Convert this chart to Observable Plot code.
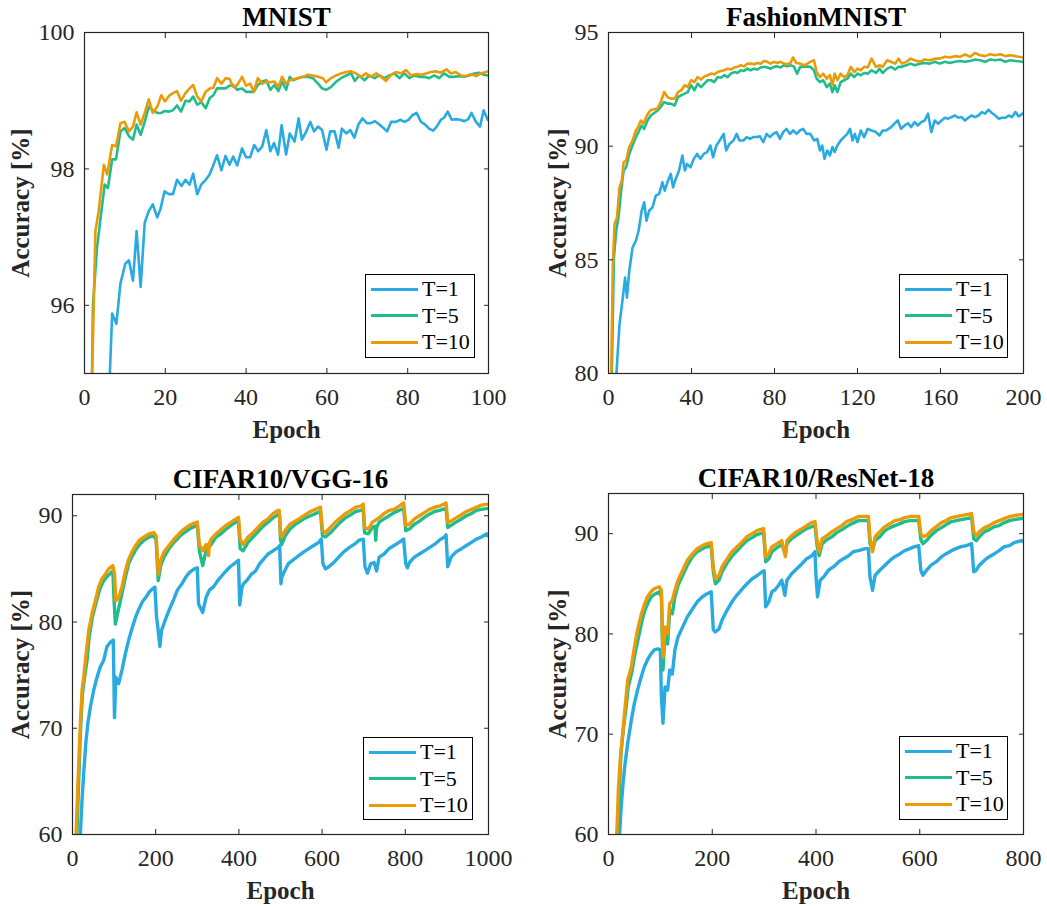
<!DOCTYPE html>
<html><head><meta charset="utf-8">
<script src="https://cdn.jsdelivr.net/npm/d3@7"></script>
<script src="https://cdn.jsdelivr.net/npm/@observablehq/plot@0.6"></script>
<style>
body{margin:0;background:#fff;}
#root{position:relative;width:1047px;height:906px;background:#fff;font-family:"Liberation Serif","Times New Roman",serif;overflow:hidden;}
.panel{position:absolute;}
.panel svg{display:block;max-width:none;}
.legend{position:absolute;border:1px solid #000;background:#fff;box-sizing:border-box;}
.row{position:absolute;left:0;height:26px;display:flex;align-items:center;white-space:nowrap;}
.sw{display:inline-block;width:47px;height:3px;margin-left:5px;margin-right:4px;}
.lt{font-family:"Liberation Serif","Times New Roman",serif;font-size:22px;color:#000;line-height:22px;}
</style></head><body><div id="root"></div>
<script>
const FONT = '"Liberation Serif","Times New Roman",serif';
const seriesNames = ["T=1", "T=5", "T=10"];
const seriesColors = ["#29abe2", "#20bd8c", "#e99b0a"];
const titles = ["MNIST", "FashionMNIST", "CIFAR10/VGG-16", "CIFAR10/ResNet-18"];
const xLabel = "Epoch";
const yLabel = "Accuracy [%]";
const xTicksMnist = [0, 20, 40, 60, 80, 100];
const yTicksMnist = [96, 98, 100];
const xTicksFashion = [0, 40, 80, 120, 160, 200];
const yTicksFashion = [80, 85, 90, 95];
const xTicksVgg = [0, 200, 400, 600, 800, 1000];
const yTicksVgg = [60, 70, 80, 90];
const xTicksResnet = [0, 200, 400, 600, 800];
const yTicksResnet = [60, 70, 80, 90];

// MNIST [epoch, accuracy]
const mnistT1 = [[5.5,93.8],[6.85,95.88],[7.9,95.73],[8.9,96.32],[10.1,96.61],[11,96.66],[12,96.36],[12.9,97.09],[13.9,96.27],[14.9,97.21],[15.9,97.38],[16.9,97.48],[18,97.29],[18.8,97.41],[19.8,97.67],[20.9,97.63],[21.9,97.63],[22.9,97.84],[24,97.75],[25,97.84],[26,97.77],[26.9,97.93],[27.9,97.63],[28.9,97.77],[30,97.84],[30.9,97.91],[31.8,98.04],[32.8,98.2],[33.9,97.98],[34.9,98.19],[35.9,98.06],[36.8,98.18],[37.8,98.05],[39,98.3],[40,98.17],[41,98.17],[42,98.35],[43,98.26],[44,98.33],[45,98.57],[46,98.26],[46.9,98.38],[47.9,98.21],[48.8,98.64],[49.9,98.21],[50.8,98.52],[52,98.4],[53,98.74],[53.8,98.43],[54.9,98.55],[55.9,98.69],[56.8,98.55],[57.8,98.62],[58.8,98.57],[59.9,98.28],[60.8,98.55],[61.9,98.55],[62.9,98.31],[63.7,98.59],[64.8,98.52],[65.8,98.57],[66.8,98.46],[67.8,98.65],[68.8,98.74],[69.9,98.67],[70.9,98.67],[71.9,98.7],[73,98.65],[74,98.6],[74.9,98.55],[75.9,98.69],[77.1,98.69],[78.1,98.72],[79.2,98.69],[80.2,98.72],[81.2,98.79],[82.2,98.82],[83.3,98.69],[84.3,98.65],[85.3,98.59],[86.3,98.56],[87.2,98.62],[88.2,98.72],[89,98.75],[89.9,98.84],[90.9,98.72],[91.9,98.73],[93,98.72],[94,98.7],[95,98.73],[95.8,98.82],[96.9,98.69],[97.9,98.62],[98.8,98.86],[99.8,98.72]];
const mnistT5 = [[1.5,93.5],[2.1,96.0],[3.1,96.85],[4,97.29],[5,97.77],[5.8,97.72],[6.85,98.14],[7.8,98.14],[8.9,98.55],[9.9,98.6],[11,98.48],[12,98.43],[12.9,98.65],[13.9,98.5],[14.9,98.69],[15.9,98.91],[16.9,98.86],[18,98.82],[19,98.82],[19.9,98.85],[20.9,98.84],[21.9,98.86],[22.9,98.93],[23.9,98.84],[25,99.0],[26,98.99],[26.9,99.06],[27.9,98.94],[28.9,98.98],[30,98.89],[31,99.04],[31.9,99.08],[32.8,99.18],[33.9,99.18],[34.9,99.18],[35.9,99.22],[36.8,99.23],[37.8,99.16],[39,99.18],[40,99.13],[41,99.13],[41.9,99.13],[42.9,99.23],[44,99.28],[45,99.3],[46,99.16],[47,99.23],[48,99.14],[48.9,99.28],[49.9,99.16],[50.8,99.35],[51.6,99.3],[52.8,99.33],[54.1,99.35],[55.3,99.35],[56.5,99.33],[57.8,99.25],[58.8,99.18],[59.8,99.16],[61,99.2],[62.3,99.28],[63.5,99.33],[64.8,99.37],[66,99.4],[66.9,99.29],[68,99.37],[69.3,99.3],[70.5,99.37],[71.8,99.33],[73,99.37],[74.2,99.33],[75.5,99.37],[76.7,99.4],[78,99.33],[79.2,99.4],[80.4,99.33],[81.6,99.37],[82.9,99.35],[84.1,99.35],[85.3,99.33],[86.6,99.37],[87.8,99.33],[89,99.4],[90.3,99.35],[91.5,99.35],[92.8,99.36],[94,99.35],[95.2,99.37],[96.5,99.4],[97.7,99.41],[98.9,99.38],[99.8,99.37]];
const mnistT10 = [[1,91.0],[1.9,95.0],[2.7,97.09],[3.5,97.38],[4.8,98.06],[5.6,97.92],[6.85,98.35],[7.8,98.33],[8.9,98.67],[9.9,98.69],[11,98.55],[12,98.62],[12.9,98.83],[13.9,98.65],[14.9,98.82],[15.9,99.02],[16.9,98.82],[18,98.91],[19,99.08],[19.9,98.99],[20.9,99.07],[21.9,99.11],[22.9,99.14],[23.9,99.0],[25,99.11],[26,99.18],[26.9,99.23],[27.9,99.06],[28.9,98.99],[30,99.13],[31,99.18],[31.9,99.19],[32.8,99.33],[33.9,99.25],[34.9,99.33],[35.9,99.32],[36.8,99.2],[37.8,99.23],[39,99.35],[40,99.22],[41,99.25],[41.9,99.13],[42.9,99.33],[44,99.25],[45,99.28],[46,99.27],[47,99.28],[48,99.2],[48.9,99.35],[49.9,99.25],[50.8,99.3],[52.8,99.33],[54.1,99.35],[55.3,99.38],[56.5,99.37],[57.8,99.35],[59,99.33],[59.8,99.27],[61,99.33],[62.3,99.37],[63.5,99.4],[64.8,99.42],[66,99.43],[67.2,99.4],[68.5,99.35],[69.7,99.4],[70.9,99.35],[72.2,99.4],[73.4,99.35],[74.6,99.29],[75.9,99.38],[77.1,99.42],[78.4,99.4],[79.6,99.45],[80.8,99.37],[82.1,99.39],[83.3,99.38],[84.5,99.4],[85.8,99.42],[87,99.43],[88.2,99.41],[89.6,99.46],[90.7,99.4],[91.9,99.42],[93.2,99.37],[94.4,99.36],[95.6,99.39],[96.9,99.36],[98.1,99.4],[99.8,99.43]];

// FashionMNIST
const fashionT1 = [[3,78.8],[5.3,82.16],[6.9,83.34],[8,84.22],[8.9,83.34],[10,84.5],[11.6,85.54],[13.2,85.84],[14.5,86.28],[16,87.16],[17.2,87.53],[18.3,86.72],[19.6,87.16],[21.2,87.31],[22.8,87.82],[24.4,87.9],[26,88.41],[27.1,88.04],[28.4,88.41],[30,88.78],[31.1,88.19],[32.4,88.56],[34,88.93],[35.6,89.59],[36.8,88.93],[37.9,89.22],[39.5,89.07],[41.1,89.44],[42.7,89.66],[44.3,89.44],[45.9,89.66],[47.5,89.74],[49.1,90.03],[50.4,89.51],[52,90.03],[53.6,90.25],[55.5,90.54],[56.7,89.81],[58.3,90.1],[60.2,90.25],[61.8,90.54],[63.1,90.25],[65,90.25],[66.6,90.4],[68.2,90.32],[69.8,90.4],[71.4,90.4],[73,90.43],[74.6,90.18],[76.2,90.54],[77.8,90.4],[79.4,90.54],[81,90.62],[82.6,90.32],[84.2,90.62],[85.8,90.76],[87.4,90.54],[89,90.69],[90.6,90.54],[92.2,90.69],[93.8,90.76],[95.4,90.54],[97.3,90.54],[99,90.25],[100.6,90.32],[101.9,89.81],[103,90.03],[104.1,89.44],[105.4,89.81],[106.7,89.59],[107.9,89.96],[109,89.74],[110.3,90.03],[111.9,90.25],[113.5,90.4],[115.1,90.54],[116.4,90.76],[117.6,90.25],[118.7,90.54],[120,90.18],[121.6,90.69],[123.2,90.4],[124.9,90.76],[126.8,90.69],[128.9,90.62],[130.6,90.47],[132.1,90.69],[133.8,90.69],[136.2,90.84],[137.8,90.99],[139.4,91.13],[141,90.76],[142.7,90.91],[144.3,91.01],[145.9,90.84],[147.5,91.06],[149.1,90.91],[150.7,91.06],[152.4,91.13],[154,91.43],[155.6,90.62],[157.2,91.13],[158.8,90.99],[160.5,91.13],[162.1,91.25],[163.7,91.21],[165.3,91.28],[166.9,91.35],[168.6,91.25],[170.2,91.28],[171.8,91.13],[173.4,91.25],[175,91.35],[176.6,91.28],[178.3,91.35],[179.9,91.5],[181.5,91.43],[183.1,91.6],[184.8,91.46],[186.4,91.35],[188,91.21],[189.6,91.25],[191.3,91.25],[192.9,91.35],[194.5,91.28],[196.1,91.5],[197.7,91.31],[199.6,91.43]];
const fashionT5 = [[1,77],[1.6,80],[2.6,85.1],[3.7,86.28],[4.8,86.87],[6.1,88.04],[7.3,88.93],[8.5,89.07],[10,89.66],[11.6,90.03],[13.2,90.4],[14.8,90.69],[15.9,90.91],[17.2,90.76],[18.8,91.13],[20.4,91.35],[22,91.46],[23.6,91.57],[25.2,91.72],[26.8,91.94],[28.4,91.87],[30,91.87],[31.9,91.79],[33.5,92.16],[35.1,92.24],[36.7,92.31],[38.2,92.38],[39.8,92.68],[41.4,92.46],[43,92.75],[44.6,92.6],[46.2,92.75],[47.8,92.9],[49.4,92.9],[51,92.82],[52.6,93.04],[54.2,93.01],[55.8,93.12],[57.4,93.04],[59,93.19],[60.6,93.26],[62.2,93.22],[63.7,93.34],[65.3,93.31],[66.9,93.41],[68.5,93.34],[70.1,93.41],[71.7,93.37],[73.3,93.46],[74.9,93.49],[76.5,93.46],[78.1,93.41],[79.7,93.49],[81.3,93.51],[82.9,93.46],[84.5,93.56],[86.1,93.51],[87.7,93.56],[89.3,93.51],[90.9,93.19],[92.4,93.49],[94.5,93.51],[97.3,93.49],[99,93.34],[100.3,92.97],[101.9,92.82],[103.5,92.9],[105.2,92.6],[106.7,92.75],[107.9,92.38],[109,92.68],[110.3,92.38],[111.9,92.82],[113.5,92.9],[115.1,92.97],[116.8,93.19],[118.4,93.04],[120,93.19],[121.6,93.12],[123.2,93.22],[124.9,93.19],[126.8,93.34],[128.9,93.22],[130.6,93.41],[132.1,93.22],[134.3,93.41],[136.2,93.49],[138.1,93.37],[139.8,93.49],[141.4,93.49],[143.5,93.56],[145.6,93.63],[147.5,93.56],[150,93.63],[152.4,93.66],[154.9,93.63],[157.2,93.71],[159.6,93.63],[162.1,93.71],[164.5,93.66],[166.9,93.71],[169.4,93.75],[171.8,93.71],[174.3,93.75],[176.6,93.81],[179.1,93.78],[181.5,93.71],[183.9,93.81],[186.4,93.78],[188.8,93.81],[191.3,93.71],[193.7,93.78],[196.1,93.75],[199.6,93.71]];
const fashionT10 = [[0.8,77],[1.3,80],[2.1,84.8],[2.9,86.57],[4.1,86.87],[5.3,88.19],[6.4,88.49],[7.3,89.29],[8.5,89.37],[10,89.96],[11.6,90.25],[13.2,90.69],[14.3,90.84],[15.6,91.13],[16.9,90.99],[18.5,91.35],[20.1,91.57],[21.7,91.62],[23.6,91.65],[25.2,91.94],[26.8,92.38],[28.4,92.16],[30,92.09],[31.9,92.09],[33.5,92.38],[35.1,92.46],[36.7,92.68],[38.2,92.6],[39.8,92.9],[41.4,92.82],[43,93.04],[44.6,92.93],[46.2,93.07],[47.8,93.12],[49.4,93.19],[51,93.16],[52.6,93.26],[54.2,93.31],[55.8,93.34],[57.4,93.41],[59,93.37],[60.6,93.46],[62.2,93.49],[63.7,93.56],[65.3,93.51],[66.9,93.63],[68.5,93.63],[70.1,93.6],[71.7,93.66],[73.3,93.63],[74.9,93.75],[76.5,93.71],[78.1,93.63],[79.7,93.71],[81.3,93.66],[82.9,93.71],[84.5,93.63],[86.1,93.6],[87.7,93.66],[88.9,93.9],[90.5,93.66],[92.4,93.63],[94.5,93.56],[97.3,93.71],[99,93.78],[100.3,93.26],[101.9,93.04],[103.5,93.19],[105.2,92.97],[106.7,93.12],[107.9,92.68],[109,93.19],[110.3,92.9],[111.9,93.19],[113.5,93.04],[115.1,93.12],[116.8,93.49],[118.4,93.26],[120,93.41],[121.6,93.34],[123.2,93.49],[124.9,93.46],[126.8,93.85],[128.9,93.49],[130.6,93.56],[132.1,93.49],[134.3,93.78],[136.2,93.71],[138.1,93.63],[139.8,93.85],[141.4,93.63],[143.5,93.71],[145.6,93.85],[147.5,93.78],[150,93.71],[152.4,93.81],[154.9,93.78],[157.2,93.85],[159.6,93.85],[162.1,93.93],[164.5,93.9],[166.9,93.96],[169.4,93.93],[171.8,94.04],[174.3,93.93],[176.6,94.1],[179.1,94.0],[181.5,93.96],[183.9,94.04],[186.4,94.0],[188.8,94.04],[191.3,93.96],[193.7,94.0],[196.1,93.96],[199.6,93.9]];

// CIFAR10 / VGG-16
const vggT1 = [[15,57],[23,63.3],[27,65.8],[32,68.6],[37,70.5],[43,72.0],[51,73.6],[59,74.8],[67,75.8],[75,76.4],[83,77.7],[91,78.1],[98,78.3],[101,71.0],[104,74.8],[111,74.2],[119,75.5],[127,77.0],[135,78.3],[144,79.5],[152,80.5],[160,81.25],[168,81.9],[176,82.3],[184,82.8],[192,83.1],[198,83.3],[202,80.5],[206,79.2],[210,77.7],[214,79.2],[223,80.2],[232,81.1],[242,82.0],[252,83.0],[263,83.6],[272,84.2],[282,84.7],[293,85.0],[300,85.1],[303,81.7],[313,80.9],[321,82.3],[329,83.0],[339,83.3],[349,83.9],[360,84.4],[369,84.8],[379,85.2],[389,85.5],[399,85.8],[402,81.6],[407,83.2],[411,83.6],[419,83.9],[430,84.5],[440,84.8],[450,85.5],[459,85.9],[470,86.4],[482,86.7],[494,87.0],[498,87.2],[501,83.6],[503,84.2],[510,84.8],[519,85.5],[532,85.9],[544,86.25],[556,86.6],[568,86.9],[580,87.2],[592,87.5],[598,87.8],[602,85.5],[608,85.0],[616,85.2],[628,85.6],[640,86.1],[652,86.6],[665,87.0],[677,87.3],[689,87.7],[699,87.8],[703,85.2],[709,84.6],[717,85.5],[725,85.6],[731,84.8],[737,86.1],[749,86.4],[761,86.9],[773,87.2],[785,87.5],[796,87.8],[801,85.5],[805,85.1],[810,85.6],[822,86.1],[834,86.4],[846,86.7],[858,87.0],[870,87.3],[882,87.7],[894,88.0],[898,88.2],[902,85.2],[910,86.1],[922,86.6],[935,86.9],[947,87.2],[959,87.5],[971,87.8],[983,88.0],[995,88.3],[1000,88.1]];
const vggT5 = [[7,56],[15,65.2],[20,70.5],[24,73.3],[29,74.8],[35,76.4],[40,78.6],[48,80.5],[56,81.7],[65,83.0],[73,83.75],[81,84.2],[89,84.5],[97,84.8],[100,82.0],[103,79.8],[110,81.1],[119,82.7],[127,84.2],[135,85.5],[144,86.25],[152,86.8],[161,87.3],[172,87.7],[184,88.0],[196,88.1],[201,87.7],[206,83.9],[212,85.3],[220,86.1],[232,86.9],[244,87.5],[256,88.0],[268,88.4],[281,88.75],[293,89.0],[300,89.1],[305,86.7],[313,85.3],[321,86.7],[333,87.3],[345,88.0],[357,88.3],[369,88.75],[381,89.1],[393,89.4],[399,89.5],[403,86.9],[410,86.7],[422,87.5],[434,88.0],[446,88.5],[458,89.0],[470,89.4],[482,89.8],[494,90.1],[498,89.85],[500,87.7],[503,87.3],[511,88.1],[523,88.75],[536,89.2],[548,89.5],[560,89.8],[572,90.0],[584,90.2],[596,90.4],[601,88.1],[608,88.0],[620,88.4],[632,88.9],[644,89.4],[656,89.8],[669,90.1],[681,90.4],[693,90.5],[699,90.6],[702,88.4],[711,88.3],[721,88.9],[727,89.0],[729,87.7],[731,88.9],[737,89.4],[749,89.7],[761,90.0],[773,90.3],[785,90.5],[796,90.7],[801,88.6],[810,88.75],[822,89.2],[834,89.5],[846,89.85],[858,90.15],[870,90.4],[882,90.5],[898,90.7],[902,88.9],[910,89.1],[922,89.4],[935,89.7],[947,90.0],[959,90.2],[971,90.5],[983,90.6],[1000,90.7]];
const vggT10 = [[5,56],[13,64.8],[19,70.5],[23,73.6],[27,74.8],[32,76.7],[39,79.2],[47,80.8],[55,82.0],[63,83.3],[71,84.1],[79,84.5],[87,85.0],[97,85.3],[101,84.5],[104,82.0],[111,82.3],[119,83.3],[127,84.8],[135,85.9],[144,86.7],[152,87.2],[161,87.7],[172,88.0],[184,88.3],[196,88.4],[201,88.1],[206,84.5],[212,85.8],[220,86.6],[232,87.2],[244,87.8],[256,88.3],[268,88.75],[281,89.1],[293,89.3],[300,89.4],[305,87.3],[313,86.7],[321,87.3],[325,87.2],[327,86.25],[329,87.4],[333,87.8],[345,88.3],[357,88.7],[369,89.1],[381,89.4],[393,89.7],[399,89.85],[403,87.8],[410,87.3],[422,88.0],[434,88.4],[446,88.9],[458,89.4],[470,89.7],[482,90.2],[494,90.5],[497,90.5],[500,88.3],[503,88.0],[511,88.6],[523,89.2],[536,89.5],[548,89.8],[560,90.1],[572,90.4],[584,90.6],[596,90.8],[601,88.6],[608,88.4],[620,88.9],[632,89.4],[644,89.8],[656,90.2],[669,90.5],[681,90.8],[693,90.9],[699,91.1],[702,88.9],[711,88.75],[721,89.4],[737,89.8],[749,90.2],[761,90.5],[773,90.6],[785,90.9],[796,91.2],[801,89.1],[810,89.2],[822,89.7],[834,90.0],[846,90.3],[858,90.6],[870,90.8],[882,90.9],[898,91.2],[902,89.4],[910,89.5],[922,89.8],[935,90.1],[947,90.4],[959,90.6],[971,90.8],[983,91.0],[1000,91.1]];

// CIFAR10 / ResNet-18
const resnetT1 = [[18,57],[24,62.4],[28,65.1],[32,67.1],[37,69.1],[44,71.4],[50,73.1],[56,74.4],[63,75.7],[69,76.7],[75,77.4],[82,78.0],[88,78.4],[95,78.5],[100,78.4],[102,73.7],[105,71.1],[109,74.7],[114,74.4],[118,76.4],[123,76.0],[128,78.4],[134,79.7],[143,80.7],[152,81.7],[162,82.5],[171,83.2],[181,83.7],[190,84.0],[198,84.2],[202,80.4],[206,80.2],[213,80.5],[219,81.4],[229,82.4],[238,83.2],[248,83.9],[258,84.5],[267,85.0],[277,85.5],[286,85.8],[296,86.2],[300,86.3],[303,82.7],[309,83.2],[315,84.2],[321,84.4],[328,84.85],[334,85.35],[340,83.85],[344,85.35],[353,86.0],[363,86.5],[373,87.0],[382,87.5],[392,87.8],[398,88.2],[400,85.7],[403,83.7],[408,85.35],[415,85.7],[424,86.35],[434,86.7],[444,87.2],[453,87.5],[463,87.8],[472,88.2],[482,88.3],[495,88.5],[501,88.5],[504,85.7],[509,84.35],[514,85.85],[523,86.35],[533,86.85],[543,87.35],[552,87.7],[562,88.0],[571,88.3],[581,88.5],[590,88.7],[598,88.8],[602,86.35],[606,85.85],[613,86.35],[622,86.85],[632,87.2],[642,87.7],[651,88.0],[661,88.3],[670,88.5],[680,88.7],[690,88.8],[700,89.0],[704,86.2],[709,86.35],[715,86.85],[725,87.35],[734,87.7],[744,88.0],[753,88.3],[763,88.7],[773,88.8],[782,89.1],[796,89.3],[800,89.2]];
const resnetT5 = [[15,57],[21,64.4],[24,68.1],[29,70.7],[34,72.7],[38,74.7],[45,76.2],[51,78.0],[58,79.7],[64,81.2],[70,82.35],[77,83.2],[83,83.75],[90,84.0],[98,84.2],[102,83.7],[105,76.4],[109,80.0],[114,79.0],[118,82.35],[123,82.0],[128,83.7],[134,84.85],[143,85.85],[152,86.85],[162,87.7],[171,88.2],[181,88.5],[190,88.7],[198,88.7],[202,86.2],[206,85.0],[213,85.35],[219,86.2],[229,87.1],[238,87.75],[248,88.3],[258,88.85],[267,89.3],[277,89.6],[286,89.9],[299,90.1],[303,87.2],[309,87.5],[315,88.2],[325,88.6],[334,88.9],[341,88.0],[344,89.0],[353,89.5],[363,89.85],[373,90.2],[382,90.5],[392,90.7],[398,90.8],[402,88.85],[406,87.8],[412,89.0],[421,89.4],[431,89.7],[440,90.1],[450,90.4],[459,90.7],[469,91.0],[482,91.3],[495,91.3],[501,91.3],[504,89.0],[509,88.5],[514,89.3],[523,89.7],[533,90.3],[543,90.6],[552,90.8],[562,91.0],[571,91.2],[581,91.3],[590,91.3],[598,91.3],[602,89.4],[606,89.0],[613,89.3],[622,89.85],[632,90.3],[642,90.6],[651,90.9],[661,91.2],[670,91.3],[680,91.4],[690,91.5],[700,91.6],[704,89.5],[709,89.3],[715,89.7],[725,90.2],[734,90.4],[744,90.7],[753,90.8],[763,91.1],[773,91.3],[782,91.4],[796,91.5],[800,91.5]];
const resnetT10 = [[14,57],[19,64.4],[23,67.7],[28,70.4],[32,72.7],[37,75.4],[44,76.7],[50,78.7],[56,80.4],[63,81.9],[69,82.9],[75,83.7],[82,84.2],[88,84.5],[98,84.7],[102,84.35],[105,77.7],[109,80.7],[114,80.0],[118,83.0],[123,83.35],[128,84.35],[134,85.35],[143,86.35],[152,87.35],[162,88.0],[171,88.5],[181,88.8],[190,89.0],[198,89.1],[202,86.7],[206,85.5],[213,85.85],[219,86.7],[229,87.5],[238,88.2],[248,88.7],[258,89.2],[267,89.7],[277,90.0],[286,90.3],[299,90.5],[303,87.7],[309,88.0],[315,88.7],[325,89.0],[334,89.3],[341,87.7],[344,89.3],[353,89.8],[363,90.2],[373,90.5],[382,90.8],[392,91.1],[398,91.2],[402,89.3],[406,88.2],[412,89.5],[421,89.8],[431,90.2],[440,90.5],[450,90.8],[459,91.2],[469,91.4],[482,91.7],[495,91.7],[501,91.7],[504,89.5],[509,88.2],[514,89.7],[523,90.2],[533,90.7],[543,91.0],[552,91.3],[562,91.4],[571,91.6],[581,91.7],[590,91.7],[598,91.7],[602,90.0],[606,89.7],[613,89.8],[622,90.3],[632,90.7],[642,91.1],[651,91.3],[661,91.6],[670,91.7],[680,91.8],[690,91.9],[700,92.0],[704,90.2],[709,89.8],[715,90.2],[725,90.6],[734,90.8],[744,91.1],[753,91.3],[763,91.5],[773,91.7],[782,91.8],[796,91.9],[800,91.9]];

const panels = [
  {title: titles[0], series: [mnistT1, mnistT5, mnistT10], xDomain: [0, 100], yDomain: [95, 100], xTicks: xTicksMnist, yTicks: yTicksMnist,
   left: 0, top: 0, w: 520, h: 450, mL: 84, mR: 32, mT: 32, mB: 77, yLabelDx: -64, sw: 2.6,
   legend: {left: 365, top: 274, w: 110, h: 84}},
  {title: titles[1], series: [fashionT1, fashionT5, fashionT10], xDomain: [0, 200], yDomain: [80, 95], xTicks: xTicksFashion, yTicks: yTicksFashion,
   left: 520, top: 0, w: 527, h: 450, mL: 88, mR: 24, mT: 32, mB: 77, yLabelDx: -51, sw: 2.6,
   legend: {left: 899, top: 274, w: 109, h: 84}},
  {title: titles[2], series: [vggT1, vggT5, vggT10], xDomain: [0, 1000], yDomain: [60, 92], xTicks: xTicksVgg, yTicks: yTicksVgg,
   left: 0, top: 455, w: 520, h: 451, mL: 72, mR: 32, mT: 39, mB: 72, yLabelDx: -52, sw: 3.4,
   legend: {left: 363, top: 737, w: 110, h: 83}},
  {title: titles[3], series: [resnetT1, resnetT5, resnetT10], xDomain: [0, 800], yDomain: [60, 94], xTicks: xTicksResnet, yTicks: yTicksResnet,
   left: 520, top: 455, w: 527, h: 451, mL: 88, mR: 24, mT: 38, mB: 72, yLabelDx: -51, sw: 3.4,
   legend: {left: 899, top: 736, w: 109, h: 84}}
];

const root = document.getElementById("root");
const ink = "#262626";
const fmt = d => String(d);

for (const p of panels) {
  const lines = p.series.map((s, i) => Plot.line(s, {
    x: d => d[0], y: d => d[1], stroke: seriesColors[i], strokeWidth: p.sw, clip: true
  }));
  const svg = Plot.plot({
    width: p.w, height: p.h,
    marginLeft: p.mL, marginRight: p.mR, marginTop: p.mT, marginBottom: p.mB,
    style: {fontFamily: FONT, fontSize: "24px", color: ink, background: "transparent", overflow: "visible"},
    x: {domain: p.xDomain},
    y: {domain: p.yDomain},
    marks: [
      ...lines,
      Plot.frame({stroke: ink, strokeWidth: 1.2}),
      Plot.axisX({ticks: p.xTicks, tickFormat: fmt, anchor: "bottom", tickSize: -5, tickPadding: 19, label: null, fontSize: 24, fontFamily: FONT, fill: ink}),
      Plot.axisX({ticks: p.xTicks, anchor: "top", tickSize: -5, tickFormat: () => "", label: null}),
      Plot.axisY({ticks: p.yTicks, tickFormat: fmt, anchor: "left", tickSize: -5, tickPadding: 15, label: null, fontSize: 24, fontFamily: FONT, fill: ink}),
      Plot.axisY({ticks: p.yTicks, anchor: "right", tickSize: -5, tickFormat: () => "", label: null}),
      Plot.text([p.title], {text: d => d, frameAnchor: "top", lineAnchor: "middle", textAnchor: "middle", dy: -15, fontWeight: "bold", fontSize: 27, fontFamily: FONT, fill: "#000"}),
      Plot.text([xLabel], {text: d => d, frameAnchor: "bottom", lineAnchor: "middle", textAnchor: "middle", dy: 56, fontWeight: "bold", fontSize: 25, fontFamily: FONT, fill: ink}),
      Plot.text([yLabel], {text: d => d, frameAnchor: "left", lineAnchor: "middle", textAnchor: "middle", dx: p.yLabelDx, rotate: -90, fontWeight: "bold", fontSize: 25, fontFamily: FONT, fill: ink})
    ]
  });
  const div = document.createElement("div");
  div.className = "panel";
  div.style.left = p.left + "px";
  div.style.top = p.top + "px";
  div.style.width = p.w + "px";
  div.style.height = p.h + "px";
  div.appendChild(svg);
  root.appendChild(div);

  const lg = document.createElement("div");
  lg.className = "legend";
  lg.style.left = p.legend.left + "px";
  lg.style.top = p.legend.top + "px";
  lg.style.width = p.legend.w + "px";
  lg.style.height = p.legend.h + "px";
  seriesNames.forEach((name, i) => {
    const row = document.createElement("div");
    row.className = "row";
    row.style.top = (1 + i * 26.5) + "px";
    const sw = document.createElement("span");
    sw.className = "sw";
    sw.style.background = seriesColors[i];
    const t = document.createElement("span");
    t.className = "lt";
    t.textContent = name;
    row.appendChild(sw);
    row.appendChild(t);
    lg.appendChild(row);
  });
  root.appendChild(lg);
}
</script></body></html>
